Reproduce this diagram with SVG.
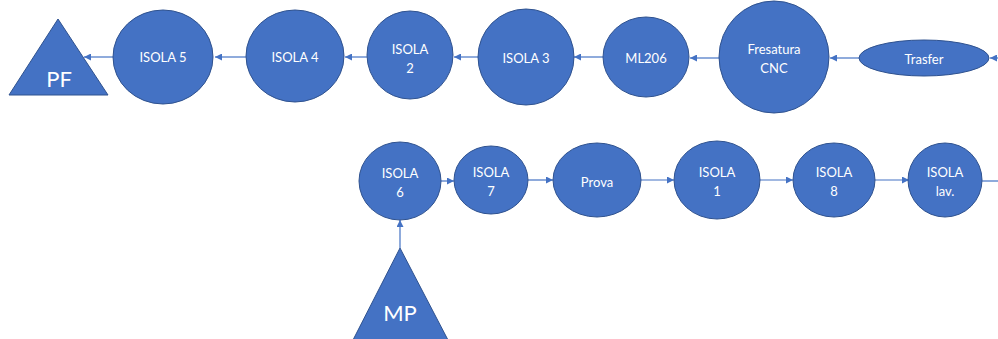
<svg xmlns="http://www.w3.org/2000/svg" width="998" height="339" viewBox="0 0 998 339">
  <style>
    .node { fill: #4472C4; stroke: #2F528F; stroke-width: 1; }
    .lbl { fill: #FFFFFF; font-family: Lato, "Open Sans", "Liberation Sans", sans-serif; font-size: 13px; text-anchor: middle; dominant-baseline: central; }
    .big { font-size: 22px; }
    .edge { stroke: #4472C4; stroke-width: 1.2; fill: none; }
  </style>
  <defs>
    <marker id="arrow" viewBox="0 0 10 10" refX="10" refY="5" markerWidth="7" markerHeight="7" markerUnits="userSpaceOnUse" orient="auto">
      <path d="M0,0 L10,5 L0,10 z" fill="#4472C4"/>
    </marker>
  </defs>
  <rect width="998" height="339" fill="#FFFFFF"/>

  <!-- connectors -->
  <g id="connectors">
    <line class="edge" x1="998" y1="58" x2="990" y2="58" marker-end="url(#arrow)"/>
    <line class="edge" x1="859" y1="58" x2="830" y2="58" marker-end="url(#arrow)"/>
    <line class="edge" x1="719" y1="58" x2="690" y2="58" marker-end="url(#arrow)"/>
    <line class="edge" x1="603" y1="57" x2="574" y2="57" marker-end="url(#arrow)"/>
    <line class="edge" x1="478" y1="57" x2="454" y2="57" marker-end="url(#arrow)"/>
    <line class="edge" x1="367" y1="57" x2="345" y2="57" marker-end="url(#arrow)"/>
    <line class="edge" x1="246" y1="57" x2="215" y2="57" marker-end="url(#arrow)"/>
    <line class="edge" x1="113" y1="57" x2="84" y2="57" marker-end="url(#arrow)"/>

    <line class="edge" x1="400" y1="248" x2="400" y2="220" marker-end="url(#arrow)"/>
    <line class="edge" x1="441" y1="181" x2="454" y2="181" marker-end="url(#arrow)"/>
    <line class="edge" x1="528" y1="180" x2="553" y2="180" marker-end="url(#arrow)"/>
    <line class="edge" x1="641" y1="180" x2="674" y2="180" marker-end="url(#arrow)"/>
    <line class="edge" x1="760" y1="180" x2="793" y2="180" marker-end="url(#arrow)"/>
    <line class="edge" x1="874" y1="180" x2="909" y2="180" marker-end="url(#arrow)"/>
    <line class="edge" x1="982" y1="181" x2="998" y2="181"/>
  </g>

  <!-- top row -->
  <g id="pf">
    <polygon class="node" points="58,19 108,95 9,95"/>
    <text class="lbl big" x="59" y="78">PF</text>
  </g>
  <g id="isola5">
    <ellipse class="node" cx="163" cy="57" rx="50" ry="47"/>
    <text class="lbl" x="163" y="57">ISOLA 5</text>
  </g>
  <g id="isola4">
    <ellipse class="node" cx="295" cy="56" rx="49" ry="46"/>
    <text class="lbl" x="295" y="57">ISOLA 4</text>
  </g>
  <g id="isola2">
    <ellipse class="node" cx="410" cy="55" rx="43" ry="44"/>
    <text class="lbl" x="410" y="49">ISOLA</text>
    <text class="lbl" x="410" y="68">2</text>
  </g>
  <g id="isola3">
    <ellipse class="node" cx="526" cy="57" rx="48" ry="48"/>
    <text class="lbl" x="526" y="58">ISOLA 3</text>
  </g>
  <g id="ml206">
    <ellipse class="node" cx="646" cy="57" rx="43" ry="40"/>
    <text class="lbl" x="646" y="58">ML206</text>
  </g>
  <g id="fresatura">
    <ellipse class="node" cx="774" cy="57" rx="55" ry="56"/>
    <text class="lbl" x="774" y="49">Fresatura</text>
    <text class="lbl" x="774" y="68">CNC</text>
  </g>
  <g id="trasfer">
    <ellipse class="node" cx="924" cy="58" rx="65" ry="18"/>
    <text class="lbl" x="924" y="59">Trasfer</text>
  </g>

  <!-- bottom row -->
  <g id="mp">
    <polygon class="node" points="400,248 448,340 353,340"/>
    <text class="lbl big" x="400" y="312">MP</text>
  </g>
  <g id="isola6">
    <ellipse class="node" cx="400" cy="181" rx="41" ry="39"/>
    <text class="lbl" x="400" y="173">ISOLA</text>
    <text class="lbl" x="400" y="192">6</text>
  </g>
  <g id="isola7">
    <ellipse class="node" cx="491" cy="180" rx="37" ry="34"/>
    <text class="lbl" x="491" y="172">ISOLA</text>
    <text class="lbl" x="491" y="191">7</text>
  </g>
  <g id="prova">
    <ellipse class="node" cx="597" cy="180" rx="44" ry="37"/>
    <text class="lbl" x="597" y="182">Prova</text>
  </g>
  <g id="isola1">
    <ellipse class="node" cx="717" cy="180" rx="43" ry="39"/>
    <text class="lbl" x="717" y="172">ISOLA</text>
    <text class="lbl" x="717" y="191">1</text>
  </g>
  <g id="isola8">
    <ellipse class="node" cx="834" cy="180" rx="41" ry="37"/>
    <text class="lbl" x="834" y="172">ISOLA</text>
    <text class="lbl" x="834" y="191">8</text>
  </g>
  <g id="isola-lav">
    <ellipse class="node" cx="945" cy="180" rx="37" ry="37"/>
    <text class="lbl" x="945" y="172">ISOLA</text>
    <text class="lbl" x="945" y="191">lav.</text>
  </g>
</svg>
